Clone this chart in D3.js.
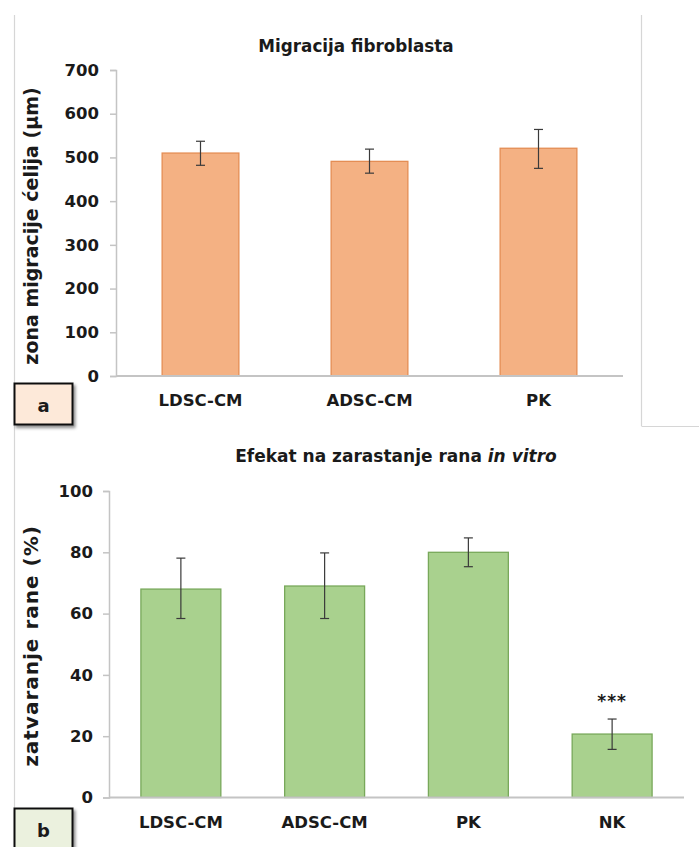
<!DOCTYPE html>
<html>
<head>
<meta charset="utf-8">
<script src="https://cdn.jsdelivr.net/npm/d3@7/dist/d3.min.js"></script>
<style>
  html, body { margin: 0; padding: 0; background: #ffffff; }
  svg { display: block; }
  text { font-family: "DejaVu Sans", Verdana, sans-serif; font-weight: bold; fill: #1a1a1a; }
</style>
</head>
<body>
<svg id="chart" width="699" height="847"></svg>
<script>
// Panel a: fibroblast migration zone (µm)
const catsA = ["LDSC-CM", "ADSC-CM", "PK"];
const meanA = [510, 491, 521];
const errLowA = [482, 464, 475];
const errHighA = [537, 519, 564];
const ticksA = [0, 100, 200, 300, 400, 500, 600, 700];

// Panel b: wound closure in vitro (%)
const catsB = ["LDSC-CM", "ADSC-CM", "PK", "NK"];
const meanB = [68, 69, 80, 20.7];
const errLowB = [58.4, 58.4, 75.3, 15.7];
const errHighB = [78.1, 79.8, 84.7, 25.6];
const ticksB = [0, 20, 40, 60, 80, 100];
const signifB = ["", "", "", "***"];

const svg = d3.select("#chart");
const frameColor = "#d6d6d6";
const axisColor = "#c4c4c4";

// Drop shadow for the panel letter boxes
const defs = svg.append("defs");
const shadow = defs.append("filter").attr("id", "boxShadow")
  .attr("x", "-20%").attr("y", "-20%").attr("width", "150%").attr("height", "150%");
shadow.append("feDropShadow").attr("dx", 2).attr("dy", 2.5)
  .attr("stdDeviation", 1.6).attr("flood-color", "#000").attr("flood-opacity", 0.45);

// Frame lines around the panels
svg.append("line").attr("x1", 14.5).attr("x2", 14.5).attr("y1", 15).attr("y2", 847)
  .attr("stroke", frameColor).attr("stroke-width", 1.2);
svg.append("line").attr("x1", 641.5).attr("x2", 641.5).attr("y1", 15).attr("y2", 426)
  .attr("stroke", frameColor).attr("stroke-width", 1.2);
svg.append("line").attr("x1", 641.5).attr("x2", 699).attr("y1", 426.5).attr("y2", 426.5)
  .attr("stroke", frameColor).attr("stroke-width", 1.2);

function drawPanel(cfg) {
  const g = svg.append("g");
  const x = d3.scaleBand().domain(cfg.cats).range(cfg.xRange)
    .paddingInner(cfg.pad).paddingOuter(cfg.pad / 2);
  const y = d3.scaleLinear().domain(cfg.yDomain).range(cfg.yRange);

  // Y axis
  const yAxis = d3.axisLeft(y).tickValues(cfg.ticks).tickSize(6).tickPadding(cfg.tickPad)
    .tickFormat(d3.format("d"));
  const ya = g.append("g").attr("transform", `translate(${cfg.xRange[0]},0)`).call(yAxis);
  ya.select(".domain").attr("stroke", axisColor).attr("stroke-width", 1.5);
  ya.selectAll(".tick line").attr("stroke", axisColor).attr("stroke-width", 1.5);
  ya.selectAll(".tick text").style("font-size", "16.5px").attr("fill", "#1a1a1a");

  // Bars
  g.selectAll("rect.bar").data(cfg.cats).join("rect").attr("class", "bar")
    .attr("x", d => x(d) + 0.5)
    .attr("width", x.bandwidth() - 1)
    .attr("y", (d, i) => y(cfg.mean[i]))
    .attr("height", (d, i) => y(0) - y(cfg.mean[i]))
    .attr("fill", cfg.fill).attr("stroke", cfg.stroke).attr("stroke-width", 1.3);

  // X axis baseline
  g.append("line").attr("x1", cfg.xRange[0]).attr("x2", cfg.xRange[1])
    .attr("y1", y(0)).attr("y2", y(0)).attr("stroke", axisColor).attr("stroke-width", 1.8);

  // Error bars
  const eb = g.selectAll("g.err").data(cfg.cats).join("g").attr("class", "err")
    .attr("stroke", "#3a3a3a").attr("stroke-width", 1.2);
  eb.append("line")
    .attr("x1", d => x(d) + x.bandwidth() / 2).attr("x2", d => x(d) + x.bandwidth() / 2)
    .attr("y1", (d, i) => y(cfg.lo[i])).attr("y2", (d, i) => y(cfg.hi[i]));
  eb.append("line")
    .attr("x1", d => x(d) + x.bandwidth() / 2 - 4.5).attr("x2", d => x(d) + x.bandwidth() / 2 + 4.5)
    .attr("y1", (d, i) => y(cfg.lo[i])).attr("y2", (d, i) => y(cfg.lo[i]));
  eb.append("line")
    .attr("x1", d => x(d) + x.bandwidth() / 2 - 4.5).attr("x2", d => x(d) + x.bandwidth() / 2 + 4.5)
    .attr("y1", (d, i) => y(cfg.hi[i])).attr("y2", (d, i) => y(cfg.hi[i]));

  // Category labels
  g.selectAll("text.cat").data(cfg.cats).join("text").attr("class", "cat")
    .attr("x", d => x(d) + x.bandwidth() / 2)
    .attr("y", y(0) + cfg.labelOffset)
    .attr("text-anchor", "middle").style("font-size", "16.5px")
    .text(d => d);

  // Significance marks
  if (cfg.signif) {
    g.selectAll("text.sig").data(cfg.cats).join("text").attr("class", "sig")
      .attr("x", d => x(d) + x.bandwidth() / 2)
      .attr("y", (d, i) => y(cfg.hi[i]) - 12)
      .attr("text-anchor", "middle").style("font-size", "17px").attr("fill", "#333")
      .attr("letter-spacing", "1px")
      .text((d, i) => cfg.signif[i]);
  }

  // Title
  const t = g.append("text").attr("x", cfg.titleX).attr("y", cfg.titleY)
    .attr("text-anchor", "middle").style("font-size", cfg.titleSize);
  cfg.title.forEach(part => {
    t.append("tspan").attr("font-style", part.italic ? "italic" : "normal").text(part.text);
  });

  // Y axis title
  g.append("text")
    .attr("transform", `translate(${cfg.yTitleX},${cfg.yTitleY}) rotate(-90)`)
    .attr("text-anchor", "middle").style("font-size", cfg.yTitleSize)
    .attr("letter-spacing", cfg.yTitleSpacing)
    .text(cfg.yTitle);

  // Panel letter box
  g.append("rect").attr("x", 14.5).attr("y", cfg.boxY).attr("width", 58).attr("height", 41)
    .attr("fill", cfg.boxFill).attr("stroke", "#111").attr("stroke-width", 2)
    .attr("filter", "url(#boxShadow)");
  g.append("text").attr("x", 43.5).attr("y", cfg.boxY + 28)
    .attr("text-anchor", "middle").style("font-size", "18px").text(cfg.letter);
}

drawPanel({
  cats: catsA, mean: meanA, lo: errLowA, hi: errHighA, ticks: ticksA,
  xRange: [116, 623], pad: 0.54,
  yDomain: [0, 700], yRange: [376, 70], tickPad: 11,
  fill: "#f4b183", stroke: "#e48d54", labelOffset: 30,
  title: [{ text: "Migracija fibroblasta" }], titleX: 356, titleY: 52, titleSize: "16.8px",
  yTitle: "zona migracije ćelija (µm)", yTitleX: 38, yTitleY: 226, yTitleSize: "19px",
  yTitleSpacing: "0px",
  boxY: 383.5, boxFill: "#fde9d9", letter: "a"
});

drawPanel({
  cats: catsB, mean: meanB, lo: errLowB, hi: errHighB, ticks: ticksB, signif: signifB,
  xRange: [109, 684], pad: 0.437,
  yDomain: [0, 100], yRange: [797.5, 491], tickPad: 10,
  fill: "#a9d18e", stroke: "#78a85a", labelOffset: 30,
  title: [{ text: "Efekat na zarastanje rana " }, { text: "in vitro", italic: true }],
  titleX: 396, titleY: 462, titleSize: "17px",
  yTitle: "zatvaranje rane (%)", yTitleX: 38, yTitleY: 646, yTitleSize: "20px",
  yTitleSpacing: "1px",
  boxY: 808.5, boxFill: "#ebf1de", letter: "b"
});
</script>
</body>
</html>
